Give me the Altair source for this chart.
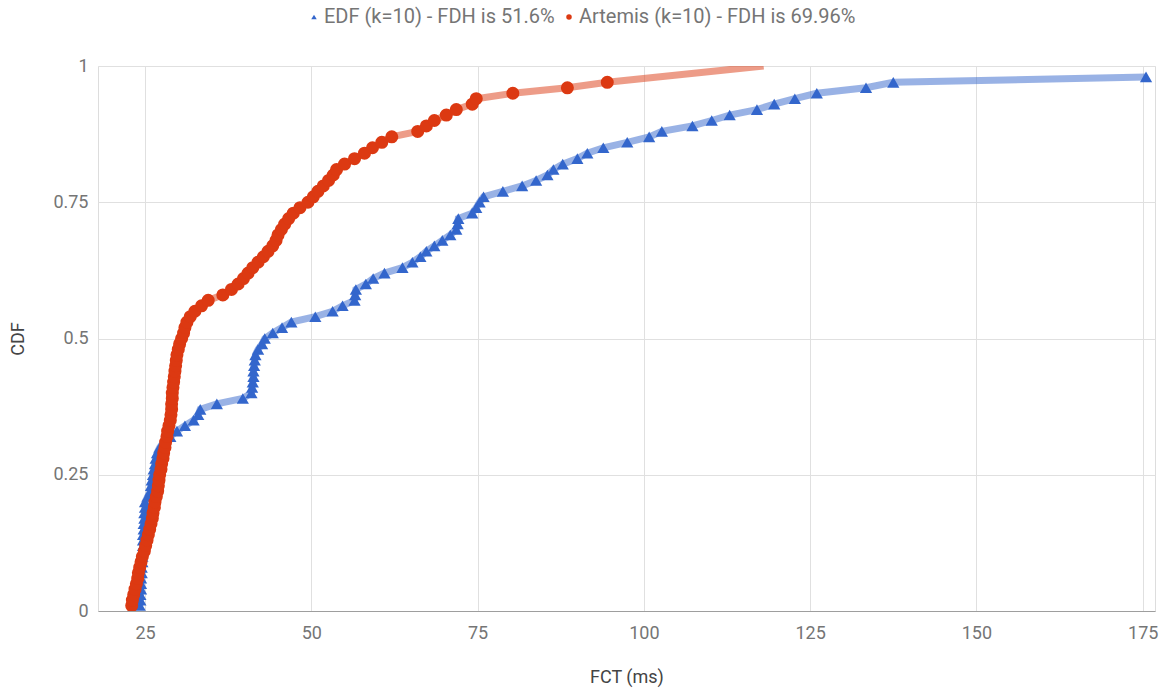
import altair as alt
import pandas as pd

EDF_LABEL = "EDF (k=10) - FDH is 51.6%"
ART_LABEL = "Artemis (k=10) - FDH is 69.96%"

# EDF (blue triangles): FCT (ms) and CDF level
edf_fct = [24.2, 24.3, 24.3, 24.4, 24.4, 24.4, 24.5, 24.5, 24.6, 24.6,
           24.6, 24.7, 24.7, 24.7, 24.8, 24.8, 24.9, 24.9, 25.0, 25.0,
           25.4, 25.8, 25.9, 26.0, 26.2, 26.3, 26.5, 26.6, 26.8, 27.2,
           27.8, 28.8, 29.8, 31.0, 32.3, 33.0, 33.3, 35.8, 39.7, 41.0,
           41.1, 41.2, 41.3, 41.3, 41.4, 41.5, 41.6, 42.0, 42.6, 43.0,
           44.2, 45.6, 47.0, 50.6, 53.2, 54.7, 56.5, 56.6, 56.7, 58.2,
           59.3, 61.0, 63.7, 65.2, 66.4, 67.3, 68.5, 69.7, 70.9, 71.8,
           72.0, 72.1, 74.2, 74.8, 75.3, 75.9, 78.8, 81.7, 83.8, 85.5,
           86.4, 87.8, 90.0, 91.5, 93.9, 97.5, 100.8, 102.7, 107.3, 110.2,
           112.9, 117.0, 119.6, 122.7, 126.0, 133.4, 137.5, 175.5]
edf_cdf = [0.01, 0.02, 0.03, 0.04, 0.05, 0.06, 0.07, 0.08, 0.09, 0.10,
           0.11, 0.12, 0.13, 0.14, 0.15, 0.16, 0.17, 0.18, 0.19, 0.20,
           0.21, 0.22, 0.23, 0.24, 0.25, 0.26, 0.27, 0.28, 0.29, 0.30,
           0.31, 0.32, 0.33, 0.34, 0.35, 0.36, 0.37, 0.38, 0.39, 0.40,
           0.41, 0.42, 0.43, 0.44, 0.45, 0.46, 0.47, 0.48, 0.49, 0.50,
           0.51, 0.52, 0.53, 0.54, 0.55, 0.56, 0.57, 0.58, 0.59, 0.60,
           0.61, 0.62, 0.63, 0.64, 0.65, 0.66, 0.67, 0.68, 0.69, 0.70,
           0.71, 0.72, 0.73, 0.74, 0.75, 0.76, 0.77, 0.78, 0.79, 0.80,
           0.81, 0.82, 0.83, 0.84, 0.85, 0.86, 0.87, 0.88, 0.89, 0.90,
           0.91, 0.92, 0.93, 0.94, 0.95, 0.96, 0.97, 0.98]

# Artemis (red circles)
art_fct = [23.0, 23.1, 23.3, 23.5, 23.7, 23.9, 24.0, 24.2, 24.4, 24.6,
           24.9, 25.1, 25.3, 25.5, 25.7, 25.9, 26.1, 26.2, 26.4, 26.5,
           26.7, 26.9, 27.0, 27.1, 27.2, 27.4, 27.5, 27.7, 27.8, 28.0,
           28.1, 28.3, 28.4, 28.6, 28.8, 28.9, 29.0, 29.0, 29.1, 29.1,
           29.2, 29.3, 29.4, 29.5, 29.6, 29.7, 29.8, 30.0, 30.2, 30.5,
           30.8, 31.0, 31.3, 31.8, 32.5, 33.5, 34.5, 36.7, 38.0, 39.0,
           39.8, 40.5, 41.2, 42.0, 42.8, 43.5, 44.2, 44.7, 45.0, 45.5,
           46.0, 46.6, 47.3, 48.3, 49.5, 50.3, 51.0, 51.8, 52.6, 53.3,
           53.8, 55.0, 56.5, 58.0, 59.2, 60.6, 62.1, 66.0, 67.3, 68.5,
           70.3, 71.8, 74.2, 74.8, 80.3, 88.5, 94.5]
art_cdf = [0.01, 0.02, 0.03, 0.04, 0.05, 0.06, 0.07, 0.08, 0.09, 0.10,
           0.11, 0.12, 0.13, 0.14, 0.15, 0.16, 0.17, 0.18, 0.19, 0.20,
           0.21, 0.22, 0.23, 0.24, 0.25, 0.26, 0.27, 0.28, 0.29, 0.30,
           0.31, 0.32, 0.33, 0.34, 0.35, 0.36, 0.37, 0.38, 0.39, 0.40,
           0.41, 0.42, 0.43, 0.44, 0.45, 0.46, 0.47, 0.48, 0.49, 0.50,
           0.51, 0.52, 0.53, 0.54, 0.55, 0.56, 0.57, 0.58, 0.59, 0.60,
           0.61, 0.62, 0.63, 0.64, 0.65, 0.66, 0.67, 0.68, 0.69, 0.70,
           0.71, 0.72, 0.73, 0.74, 0.75, 0.76, 0.77, 0.78, 0.79, 0.80,
           0.81, 0.82, 0.83, 0.84, 0.85, 0.86, 0.87, 0.88, 0.89, 0.90,
           0.91, 0.92, 0.93, 0.94, 0.95, 0.96, 0.97]

# Where the Artemis line leaves the plot at the top (no marker visible)
art_line_tail_fct = [118.0]
art_line_tail_cdf = [1.0]

x_ticks = [25, 50, 75, 100, 125, 150, 175]
y_ticks = [0, 0.25, 0.5, 0.75, 1]

series_order = [EDF_LABEL, ART_LABEL]
colors = ["#3366cc", "#dc3912"]

edf_df = pd.DataFrame({"fct": edf_fct, "cdf": edf_cdf, "series": EDF_LABEL})
art_df = pd.DataFrame({"fct": art_fct, "cdf": art_cdf, "series": ART_LABEL})

lines = pd.concat([
    edf_df,
    pd.DataFrame({"fct": art_fct + art_line_tail_fct,
                  "cdf": art_cdf + art_line_tail_cdf, "series": ART_LABEL}),
], ignore_index=True)

FONT = "Roboto"

x_enc = alt.X(
    "fct:Q",
    scale=alt.Scale(domain=[17.93, 176.85], nice=False, zero=False),
    axis=alt.Axis(
        values=x_ticks, format="d", title="FCT (ms)",
        grid=True, gridColor="#e0e0e0", ticks=False,
        domain=True, domainColor="#9e9e9e", domainWidth=1,
        labelPadding=13, labelFontSize=18, labelColor="#757575",
        labelFont=FONT, titleFont=FONT, titleFontSize=18,
        titleFontWeight="normal", titleColor="#444444",
        titleY=66, titleBaseline="middle",
    ),
)
y_enc = alt.Y(
    "cdf:Q",
    scale=alt.Scale(domain=[0, 1], nice=False),
    axis=alt.Axis(
        values=y_ticks, format=".2~f", title="CDF",
        grid=True, gridColor="#e0e0e0", ticks=False, domain=False,
        labelPadding=10, labelFontSize=18, labelColor="#757575",
        labelFont=FONT, titleFont=FONT, titleFontSize=18,
        titleFontWeight="normal", titleColor="#444444",
        titleX=-80, titleY=272.5, titleAngle=-90,
        titleAlign="center", titleBaseline="middle",
    ),
)

line_layer = alt.Chart(lines).mark_line(
    strokeWidth=7, opacity=0.5, interpolate="linear", clip=True
).encode(
    x=x_enc, y=y_enc,
    stroke=alt.Stroke("series:N", scale=alt.Scale(domain=series_order, range=colors),
                      legend=None),
    order=alt.Order("cdf:Q"),
    detail="series:N",
)


def make_legend(x, shape):
    return alt.Legend(
        title=None, orient="none", legendX=x, legendY=-59,
        direction="horizontal", labelFont=FONT, labelFontSize=20,
        labelColor="#757575", symbolSize=30, symbolType=shape,
        labelOffset=0, labelLimit=500, padding=0, symbolStrokeWidth=0,
    )


edf_points = alt.Chart(edf_df).mark_point(
    filled=True, opacity=1, clip=True, size=150, shape="triangle-up"
).encode(
    x=x_enc, y=y_enc,
    color=alt.Color("series:N", scale=alt.Scale(domain=[EDF_LABEL], range=[colors[0]]),
                    legend=make_legend(206, "triangle-up")),
)

art_points = alt.Chart(art_df).mark_point(
    filled=True, opacity=1, clip=True, size=170, shape="circle"
).encode(
    x=x_enc, y=y_enc,
    fill=alt.Fill("series:N", scale=alt.Scale(domain=[ART_LABEL], range=[colors[1]]),
                  legend=make_legend(461, "circle")),
)

chart = alt.layer(line_layer, edf_points, art_points).properties(
    width=1057, height=545,
    autosize=alt.AutoSizeParams(type="none"),
    padding={"left": 98, "top": 66, "right": 9, "bottom": 79},
).configure_view(stroke=None).configure(background="white")

chart.save("out.html", embed_options={"renderer": "svg", "actions": False})
